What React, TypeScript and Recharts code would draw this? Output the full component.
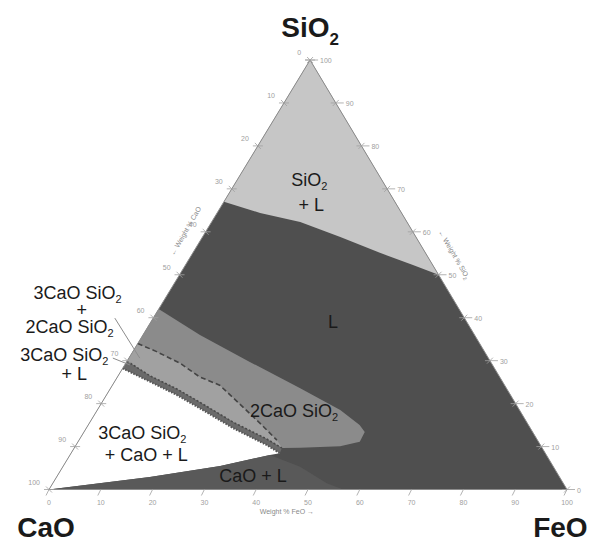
import { Scatter, ScatterChart, XAxis, YAxis } from 'recharts';

// compositions are [wt% SiO2, wt% FeO]; CaO is the remainder
type Comp = [number, number];

const triangle: Comp[] = [[0, 0], [0, 100], [100, 0]];
const silicaApex: Comp = [100, 0];
const silicaLiquidus: Comp[] = [[67, 0], [64.4, 8.3], [62.3, 17.1], [58.8, 26.6], [55.1, 36.1], [52.3, 43.9], [50, 50]];

const c2sUpper: Comp[] = [[42, 0], [36, 11], [29.7, 23.8], [23.6, 36.6], [18.5, 46.9], [15, 52.4], [13.4, 54.2]];
const c2sLower: Comp[] = [[11.1, 54.4], [10.1, 51.1], [9.7, 43.6]];
const c3sC2sDashed: Comp[] = [[34, 0], [32.1, 4.6], [29.4, 10.5], [26.2, 15.9], [24.3, 20.7], [19.9, 26.8], [15.4, 33], [11.5, 38.2]];
const c3sStripTop: Comp[] = [[29.9, 0], [26.5, 6.1], [23.4, 12.9], [20.3, 18.9], [15.65, 27.7], [11.76, 36.1], [9.66, 40.1]];
const c3sStripBottom: Comp[] = [[28.2, 0], [25.1, 6.85], [22, 13.6], [18.9, 19.6], [14.25, 28.4], [10.36, 36.8], [8.43, 40.3]];
const limeWedgeTop: Comp[] = [[0, 0], [2.91, 18], [5.47, 30.3], [8.03, 38.6]];
const limeWedgeRight: Comp[] = [[5.31, 45.8], [1.44, 52.9], [0, 56.8]];

const leaderLines: Comp[][] = [
  [[39.9, -7.4], [30.6, 2.1]],
  [[30.6, -3.1], [29, 1]],
];

const tickValues = [0, 10, 20, 30, 40, 50, 60, 70, 80, 90, 100];

type Line = { text: string; dx: number; dy: number };
const regionLabels: { lines: Line[]; at: Comp }[] = [
  { at: [70.7, 14.6], lines: [{ text: 'SiO_2', dx: 0, dy: 0 }, { text: '+ L', dx: 2, dy: 25 }] },
  { at: [37.6, 35.9], lines: [{ text: 'L', dx: 0, dy: 0 }] },
  {
    at: [44.3, -16.8],
    lines: [
      { text: '3CaO SiO_2', dx: 0, dy: 0 },
      { text: '+', dx: 4, dy: 16.5 },
      { text: '2CaO SiO_2', dx: -8, dy: 33.5 },
    ],
  },
  { at: [29.9, -12.1], lines: [{ text: '3CaO SiO_2', dx: 0, dy: 0 }, { text: '+ L', dx: 10, dy: 18.5 }] },
  { at: [16.9, 38.8], lines: [{ text: '2CaO SiO_2', dx: 0, dy: 0 }] },
  { at: [11.7, 12.1], lines: [{ text: '3CaO SiO_2', dx: 0, dy: 0 }, { text: '+ CaO + L', dx: 4, dy: 22 }] },
  { at: [1.75, 38.5], lines: [{ text: 'CaO + L', dx: 0, dy: 0 }] },
];

const cornerLabels: { text: string; at: Comp }[] = [
  { text: 'SiO_2', at: [105.4, -2.7] },
  { text: 'CaO', at: [-11.06, 5] },
  { text: 'FeO', at: [-11.06, 104.3] },
];

const axisTitles: { text: string; at: Comp; angle: number }[] = [
  { text: '\u2190 Weight % CaO', at: [59.9, -3.4], angle: -60 },
  { text: '\u2190 Weight % SiO_2', at: [54.4, 50.4], angle: 60 },
  { text: 'Weight % FeO \u2192', at: [-5.7, 48.8], angle: 0 },
];

// picture calibration: plot spans the whole svg
const X_DOMAIN: [number, number] = [-9.46, 105.79];
const Y_DOMAIN: [number, number] = [-12.22, 113.97];
const APEX_SHIFT = 0.504;
const FONT = 'Arial, "Liberation Sans", Helvetica, sans-serif';

const toXY = (c: Comp, extra: Record<string, unknown> = {}) => ({ x: c[1] + APEX_SHIFT * c[0], y: c[0], ...extra });
const pts = (cs: Comp[]) => cs.map((c) => toXY(c));

const noDot = () => <g />;

const pathLine = (fill: string, stroke = 'none', dash?: string, closed = true, width = 1) =>
  (p: any) => {
    const list = (p.points || []) as { x: number; y: number }[];
    const d = list.map((q, i) => `${i ? 'L' : 'M'}${q.x},${q.y}`).join('') + (closed ? 'Z' : '');
    return <path d={d} fill={fill} stroke={stroke} strokeWidth={width} strokeDasharray={dash} />;
  };

function chem(text: string, subSize: number, shift: number) {
  const [main, sub] = text.split('_');
  return (
    <>
      {main}
      {sub ? (
        <tspan fontSize={subSize} dy={shift}>
          {sub}
        </tspan>
      ) : null}
    </>
  );
}

const region = (key: string, cs: Comp[], fill: string, stroke = 'none', dash?: string, closed = true, width = 1) => (
  <Scatter
    key={key}
    data={pts(cs)}
    isAnimationActive={false}
    line={pathLine(fill, stroke, dash, closed, width)}
    lineType="joint"
    shape={noDot}
  />
);

const leftTicks = tickValues.map((v) => toXY([100 - v, 0], { label: String(v) }));
const rightTicks = tickValues.map((v) => toXY([v, 100 - v], { label: String(v) }));
const baseTicks = tickValues.map((v) => toXY([0, v], { label: String(v) }));

const tickColor = '#a0a0a0';

export default function App() {
  return (
    <div style={{ position: 'absolute', left: 0, top: 0, width: 597, height: 542, background: '#fff' }}>
      <ScatterChart width={597} height={542} margin={{ top: 0, right: 0, bottom: 0, left: 0 }}>
        <XAxis type="number" dataKey="x" domain={X_DOMAIN} hide />
        <YAxis type="number" dataKey="y" domain={Y_DOMAIN} hide />

        {region('liquid', triangle, '#4f4f4f')}
        {region('silica', [silicaApex, ...silicaLiquidus], '#c6c6c6')}
        {region('c2s', [...c2sUpper, ...c2sLower, ...[...c3sStripTop].reverse()], '#8b8b8b')}
        {region('c3sc2s', [...c3sC2sDashed, ...[...c3sStripTop].reverse()], '#a1a1a1')}
        {region('c3sl', [...c3sStripTop, ...[...c3sStripBottom].reverse()], '#6a6a6a')}
        {region('white', [[0, 0], ...c3sStripBottom, ...[...limeWedgeTop].reverse()], '#ffffff')}
        {region('lime', [...limeWedgeTop, ...limeWedgeRight], '#595959')}

        {region('dash1', c3sC2sDashed, 'none', '#444', '5 3', false, 1.6)}
        {region('stripTop', c3sStripTop, 'none', '#4a4a4a', '2 2', false, 1.6)}
        {region('stripBottom', c3sStripBottom, 'none', '#555', '1.5 1.5', false, 2)}
        {region('outline', triangle, 'none', '#8c8c8c', undefined, true, 1)}
        {leaderLines.map((l, i) => region(`leader${i}`, l, 'none', '#8c8c8c', undefined, false, 1))}

        <Scatter
          data={leftTicks}
          isAnimationActive={false}
          shape={(p: any) => (
            <g stroke={tickColor} strokeWidth={0.8}>
              <line x1={p.cx - 5} y1={p.cy} x2={p.cx + 5} y2={p.cy} />
              <line x1={p.cx - 3} y1={p.cy - 3} x2={p.cx + 3} y2={p.cy + 3} />
              <text x={p.cx - 9} y={p.cy - 5} fontSize={7} fill={tickColor} stroke="none" textAnchor="end" fontFamily={FONT}>
                {p.payload.label}
              </text>
            </g>
          )}
        />
        <Scatter
          data={rightTicks}
          isAnimationActive={false}
          shape={(p: any) => (
            <g stroke={tickColor} strokeWidth={0.8}>
              <line x1={p.cx - 5} y1={p.cy} x2={p.cx + 8} y2={p.cy} />
              <line x1={p.cx - 3} y1={p.cy + 3} x2={p.cx + 3} y2={p.cy - 3} />
              <text x={p.cx + 10} y={p.cy + 3} fontSize={7} fill={tickColor} stroke="none" fontFamily={FONT}>
                {p.payload.label}
              </text>
            </g>
          )}
        />
        <Scatter
          data={baseTicks}
          isAnimationActive={false}
          shape={(p: any) => (
            <g stroke={tickColor} strokeWidth={0.8}>
              <line x1={p.cx} y1={p.cy} x2={p.cx - 3} y2={p.cy + 6} />
              <text x={p.cx} y={p.cy + 15} fontSize={7} fill={tickColor} stroke="none" textAnchor="middle" fontFamily={FONT}>
                {p.payload.label}
              </text>
            </g>
          )}
        />

        <Scatter
          data={axisTitles.map((t) => toXY(t.at, { text: t.text, angle: t.angle }))}
          isAnimationActive={false}
          shape={(p: any) => (
            <text
              x={p.cx}
              y={p.cy}
              fontSize={7}
              fill="#8a8a8a"
              textAnchor="middle"
              fontFamily={FONT}
              transform={`rotate(${p.payload.angle} ${p.cx} ${p.cy})`}
            >
              {chem(p.payload.text, 5, 2)}
            </text>
          )}
        />

        <Scatter
          data={regionLabels.map((l) => toXY(l.at, { lines: l.lines }))}
          isAnimationActive={false}
          shape={(p: any) => (
            <text fontSize={18} fill="#1a1a1a" textAnchor="middle" fontFamily={FONT}>
              {(p.payload.lines as Line[]).map((l, i) => (
                <tspan key={i} x={p.cx + l.dx} y={p.cy + l.dy}>
                  {chem(l.text, 11, 4)}
                </tspan>
              ))}
            </text>
          )}
        />
        <Scatter
          data={cornerLabels.map((l) => toXY(l.at, { text: l.text }))}
          isAnimationActive={false}
          shape={(p: any) => (
            <text x={p.cx} y={p.cy} fontSize={28} fontWeight="bold" fill="#1a1a1a" textAnchor="middle" fontFamily={FONT}>
              {chem(p.payload.text, 17, 8)}
            </text>
          )}
        />
      </ScatterChart>
    </div>
  );
}
